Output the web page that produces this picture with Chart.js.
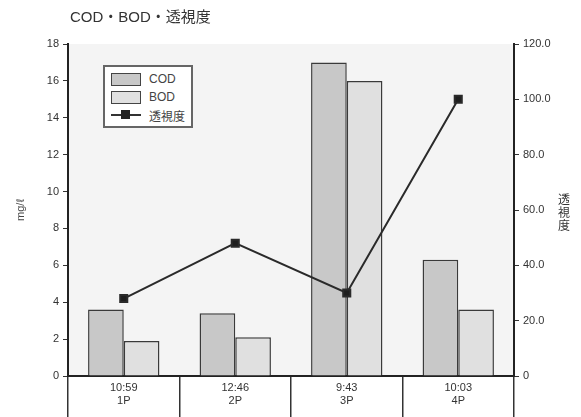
<!DOCTYPE html>
<html>
<head>
<meta charset="utf-8">
<script src="https://cdn.jsdelivr.net/npm/chart.js@4"></script>
<style>
    body { margin: 0; background: #fff; font-family: "Liberation Sans", "Noto Sans CJK JP", sans-serif; }
    #wrap { position: relative; width: 581px; height: 417px; }
    #leyenda {
        position: absolute; left: 103px; top: 65px; width: 86px; height: 59px;
        border: 2px solid #666; background: #fff; font-size: 12px; color: #444;
    }
    .fila { display: flex; align-items: center; height: 18px; margin-left: 6px; }
    .fila:first-child { margin-top: 3px; }
    .caja { width: 28px; height: 11px; border: 1.5px solid #444; margin-right: 8px; }
    .linea { position: relative; width: 30px; height: 2px; background: #333; margin-right: 8px; }
    .linea span { position: absolute; left: 10px; top: -4px; width: 9px; height: 9px; background: #222; }
</style>
</head>
<body>
<div id="wrap">
    <canvas id="grafica" width="581" height="417"></canvas>
    <div id="leyenda">
        <div class="fila"><div class="caja" style="background:#c8c8c8"></div>COD</div>
        <div class="fila"><div class="caja" style="background:#e0e0e0"></div>BOD</div>
        <div class="fila"><div class="linea"><span></span></div>透視度</div>
    </div>
</div>
<script>
// datos
const horas = ['10:59', '12:46', '9:43', '10:03'];
const puntos = ['1P', '2P', '3P', '4P'];
const cod = [3.6, 3.4, 17.0, 6.3];
const bod = [1.9, 2.1, 16.0, 3.6];
const transparencia = [28, 48, 30, 100];

const etiquetas = horas.map((h, i) => [h, puntos[i]]);

const fondoPlugin = {
    id: 'fondo',
    beforeDraw(chart) {
        const { ctx, chartArea } = chart;
        ctx.save();
        ctx.fillStyle = '#f4f4f4';
        ctx.fillRect(chartArea.left, chartArea.top, chartArea.right - chartArea.left, chartArea.bottom - chartArea.top);
        ctx.restore();
    },
    afterDraw(chart) {
        const { ctx, chartArea } = chart;
        ctx.save();
        // titulo
        ctx.fillStyle = '#333';
        ctx.font = '15px "Liberation Sans", "Noto Sans CJK JP"';
        ctx.textBaseline = 'middle';
        ctx.fillText('COD・BOD・透視度', chartArea.left + 2, 18);
        // titulo del eje derecho, caracteres apilados
        ctx.font = '12px "Noto Sans CJK JP"';
        ctx.textAlign = 'center';
        const mid = (chartArea.top + chartArea.bottom) / 2;
        ['透', '視', '度'].forEach((c, i) => {
            ctx.fillText(c, 564, mid + 2 + (i - 1) * 13);
        });
        ctx.restore();
    }
};

new Chart(document.getElementById('grafica'), {
    type: 'bar',
    data: {
        labels: etiquetas,
        datasets: [
            {
                type: 'line',
                label: '透視度',
                data: transparencia,
                yAxisID: 'y1',
                borderColor: '#2a2a2a',
                backgroundColor: '#1e1e1e',
                borderWidth: 2,
                pointStyle: 'rect',
                pointRadius: 5,
                tension: 0,
                order: 0
            },
            {
                label: 'COD',
                data: cod,
                yAxisID: 'y',
                backgroundColor: '#c8c8c8',
                borderColor: '#3a3a3a',
                borderWidth: 1.5,
                categoryPercentage: 0.64,
                barPercentage: 1.0,
                order: 1
            },
            {
                label: 'BOD',
                data: bod,
                yAxisID: 'y',
                backgroundColor: '#e0e0e0',
                borderColor: '#3a3a3a',
                borderWidth: 1.5,
                categoryPercentage: 0.64,
                barPercentage: 1.0,
                order: 1
            }
        ]
    },
    options: {
        responsive: false,
        animation: false,
        layout: { padding: { top: 44 } },
        plugins: {
            legend: { display: false },
            tooltip: { enabled: false }
        },
        scales: {
            x: {
                offset: true,
                afterFit: s => { s.height = 41; },
                grid: {
                    offset: true,
                    drawOnChartArea: false,
                    tickLength: 41,
                    color: '#333',
                    lineWidth: 1.5
                },
                border: { color: '#222', width: 2 },
                ticks: {
                    color: '#333',
                    font: { size: 11, family: 'Liberation Sans' },
                    padding: -36,
                    maxRotation: 0
                }
            },
            y: {
                position: 'left',
                min: 0,
                max: 18,
                afterFit: s => { s.width = 68; },
                ticks: {
                    stepSize: 2,
                    color: '#333',
                    font: { size: 11, family: 'Liberation Sans' },
                    padding: 4
                },
                grid: { drawOnChartArea: false, tickLength: 5, color: '#333' },
                border: { color: '#222', width: 2 },
                title: {
                    display: true,
                    text: 'mg/ℓ',
                    color: '#444',
                    font: { size: 11 },
                    padding: { top: 14, bottom: 10 }
                }
            },
            y1: {
                position: 'right',
                min: 0,
                max: 120,
                afterFit: s => { s.width = 67; },
                ticks: {
                    stepSize: 20,
                    color: '#333',
                    font: { size: 11, family: 'Liberation Sans' },
                    padding: 4,
                    callback: v => v === 0 ? '0' : v.toFixed(1)
                },
                grid: { drawOnChartArea: false, tickLength: 5, color: '#333' },
                border: { color: '#222', width: 2 }
            }
        }
    },
    plugins: [fondoPlugin]
});
</script>
</body>
</html>
